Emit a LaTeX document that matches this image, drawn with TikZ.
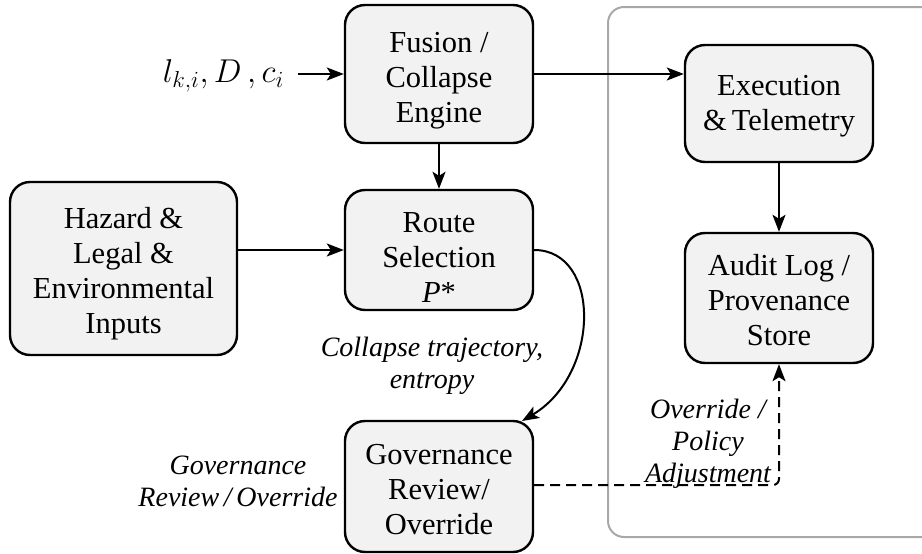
\RequirePackage{fix-cm}
\documentclass[tikz,border=0pt]{standalone}
\usepackage{fontspec}
\setmainfont{Liberation Serif}
\usetikzlibrary{arrows.meta}
\definecolor{boxfill}{HTML}{F2F2F2}
\definecolor{framegray}{HTML}{A8A8A8}
\begin{document}
\begin{tikzpicture}[x=1pt,y=-1pt,
  box/.style={draw, line width=2.4pt, rounded corners=20pt, fill=boxfill, inner sep=0pt},
  txt/.style={align=center, inner sep=0pt, font=\fontsize{30.5}{35}\selectfont},
  arr/.style={line width=2pt, -{Stealth[length=17pt,width=13pt,inset=4pt]}},
  lbl/.style={align=center, inner sep=0pt, font=\fontsize{28}{32}\selectfont\itshape}]
\useasboundingbox (0,0) rectangle (922,554);
\draw[framegray, line width=2pt, rounded corners=16pt] (608,7) rectangle (950,537);

\node[box, minimum width=227pt, minimum height=173pt,
  label={[txt, yshift=-5pt]center:Hazard \&\\Legal \&\\Environmental\\Inputs}] (haz) at (123.5,268.5) {};
\node[box, minimum width=188pt, minimum height=138pt,
  label={[txt, yshift=-7pt]center:Fusion /\\Collapse\\Engine}] (fus) at (439,74) {};
\node[box, minimum width=188pt, minimum height=120pt,
  label={[txt, yshift=-8pt]center:Route\\Selection\\\textit{P}*}] (route) at (439,250) {};
\node[box, minimum width=188pt, minimum height=131pt,
  label={[txt, yshift=-3pt]center:Governance\\Review/\\Override}] (gov) at (439,486.5) {};
\node[box, minimum width=188pt, minimum height=117pt,
  label={[txt, yshift=-3pt]center:Execution\\\&\,Telemetry}] (exec) at (779,103.5) {};
\node[box, minimum width=188pt, minimum height=130pt,
  label={[txt, yshift=-2pt]center:Audit Log /\\Provenance\\Store}] (audit) at (779,298) {};

\node[anchor=east, inner sep=0pt, font=\fontsize{33}{36}\selectfont] (inp) at (284,76) {$l_{k,i}, D\,, c_i$};
\coordinate (inpend) at (298,74);
\coordinate (govtip) at (522,421);

\node[lbl] (lct) at (432,366) {Collapse trajectory,\\entropy};
\node[lbl] (lgov) at (238,481) {Governance\\Review\,/\,Override};
\node[lbl] (lov) at (708,444) {Override /\\Policy\\Adjustment};

\draw[arr] (inpend) -- (fus.west);
\draw[arr] (fus.east) -- (fus.east -| exec.west);
\draw[arr] (fus.south) -- (route.north);
\draw[arr] (haz.east |- route.west) -- (route.west);
\draw[arr] (exec.south) -- (audit.north);
\draw[arr] (route.east) .. controls (601,250) and (601,374) .. (govtip);
\draw[arr, dash pattern=on 10pt off 6pt, rounded corners=6pt] ([yshift=1.5pt]gov.east) -| (audit.south);
\end{tikzpicture}
\end{document}
